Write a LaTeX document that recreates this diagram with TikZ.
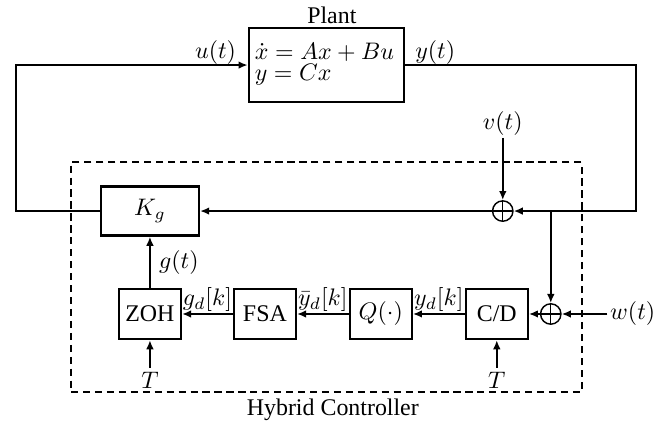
\documentclass[tikz,border=0pt]{standalone}
\usepackage[no-math]{fontspec}
\setmainfont{Liberation Serif}
\usetikzlibrary{arrows.meta}
\tikzset{
  block/.style={draw,line width=1pt,minimum width=0.91cm,minimum height=0.735cm,inner sep=1pt},
  sumnode/.style={draw,circle,line width=0.6pt,minimum size=0.3cm,inner sep=0pt,
    path picture={\draw[line width=0.6pt] (path picture bounding box.north) -- (path picture bounding box.south)
      (path picture bounding box.west) -- (path picture bounding box.east);}},
  sig/.style={line width=1pt,-{Latex[length=3.8pt,width=3.2pt]}}
}
\begin{document}
\begin{tikzpicture}
\useasboundingbox (0,0) rectangle (9.78,6.22);
% plant
\node[block,minimum width=2.28cm,minimum height=1.09cm] (plant) at (4.80,5.263) {};
\node[anchor=north west,align=left,inner sep=0pt,font=\fontsize{10}{8.8}\selectfont] (plantEq) at (3.74,5.59) {$\dot{x}=Ax+Bu$\\$y=Cx$};
\node (plantLbl) at (4.88,6.00) {Plant};
\node (uLbl) at (3.17,5.45) {$u(t)$};
\node (yLbl) at (6.40,5.45) {$y(t)$};
% hybrid controller
\node[draw,dash pattern=on 3pt off 2pt,line width=0.9pt,minimum width=7.51cm,minimum height=3.38cm] (hc) at (4.80,2.146) {};
\node (hcLbl) at (4.895,0.19) {Hybrid Controller};
\node[block,minimum width=1.44cm,minimum height=0.72cm] (kg) at (2.205,3.116) {$K_g$};
\node[block] (zoh) at (2.205,1.602) {ZOH};
\node[block] (fsa) at (3.896,1.602) {FSA};
\node[block] (quant) at (5.60,1.602) {$Q(\cdot)$};
\node[block] (cd) at (7.306,1.602) {C/D};
\node[sumnode] (sumV) at (7.394,3.116) {};
\node[sumnode] (sumW) at (8.10,1.602) {};
\node[inner sep=1pt] (vLbl) at (7.394,4.41) {$v(t)$};
\node[inner sep=1pt] (wLbl) at (9.305,1.602) {$w(t)$};
\node[inner sep=1.5pt] (tZoh) at (2.205,0.632) {$T$};
\node[inner sep=1.5pt] (tCd) at (7.306,0.632) {$T$};
\coordinate (lft) at (0.235,5.263);
\coordinate (rgt) at (9.35,3.116);
\coordinate (split) at (8.10,3.116);
% signals
\draw[sig] (plant.east) -| (rgt) -- (sumV.east);
\draw[sig] (split) -- (sumW.north);
\draw[sig] (vLbl) -- (sumV.north);
\draw[sig] (wLbl) -- (sumW.east);
\draw[sig] (sumV.west) -- (kg.east);
\draw[sig] (kg.west) -| (lft) -- (plant.west);
\draw[sig] (sumW.west) -- (cd.east);
\draw[sig] (cd.west) -- (quant.east) node[midway,above,inner sep=0.5pt] {$y_d[k]$};
\draw[sig] (quant.west) -- (fsa.east) node[midway,above,inner sep=0.5pt] {$\bar{y}_d[k]$};
\draw[sig] (fsa.west) -- (zoh.east) node[midway,above,inner sep=0.5pt] {$g_d[k]$};
\draw[sig] (zoh.north) -- (kg.south) node[midway,right] {$g(t)$};
\draw[sig] (tZoh) -- (zoh.south);
\draw[sig] (tCd) -- (cd.south);
\end{tikzpicture}
\end{document}
